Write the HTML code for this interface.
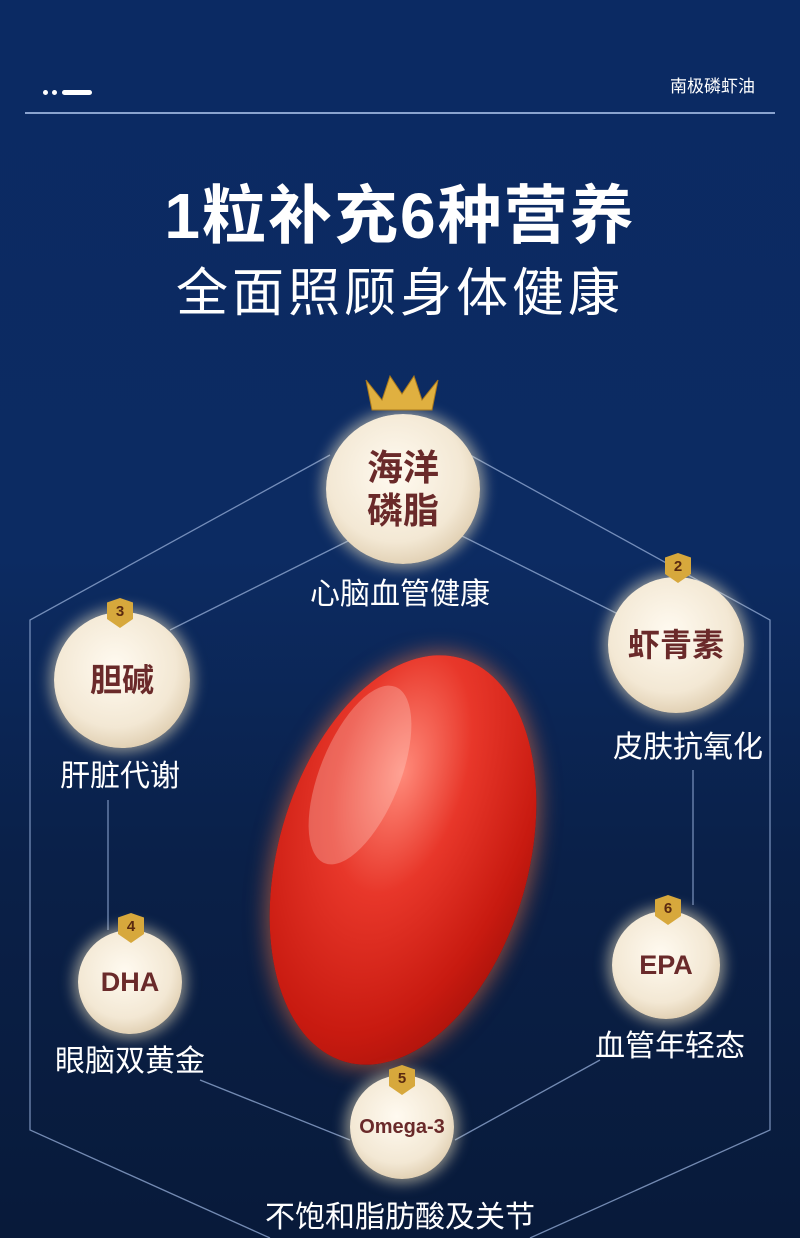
<!DOCTYPE html>
<html><head><meta charset="utf-8"><style>
*{margin:0;padding:0}
body{width:800px;height:1238px;position:relative;overflow:hidden;font-family:"Liberation Sans","Noto Sans CJK SC",sans-serif;
background:linear-gradient(180deg,#0b2a63 0%,#0c2b62 45%,#0a2048 70%,#081a3a 100%);}
.t{position:absolute;color:#fff;white-space:nowrap;text-align:center;line-height:1}
.p{position:absolute;border-radius:50%;background:radial-gradient(circle at 45% 40%,#fffaf0 0%,#f3e8d4 55%,#d8c4a3 85%,#b9a27f 100%);
box-shadow:0 0 14px 4px rgba(255,240,200,.55);display:flex;align-items:center;justify-content:center;color:#6a2a2a;font-weight:bold;text-align:center;line-height:1.2}
.b{position:absolute;width:26px;height:30px;background:#d7a83c;clip-path:polygon(50% 0,100% 15%,100% 70%,50% 100%,0 70%,0 15%);color:#5a2a10;font-size:15px;font-weight:bold;text-align:center;line-height:28px}
</style></head><body>
<div style="position:absolute;left:43px;top:90px;width:5px;height:5px;border-radius:50%;background:#fff"></div>
<div style="position:absolute;left:52px;top:90px;width:5px;height:5px;border-radius:50%;background:#fff"></div>
<div style="position:absolute;left:62px;top:90px;width:30px;height:5px;border-radius:3px;background:#fff"></div>
<div class="t" style="left:670px;top:78px;font-size:17px">南极磷虾油</div>
<div style="position:absolute;left:25px;top:112px;width:750px;height:2px;background:#8aa3cf"></div>
<div class="t" style="left:0;width:800px;top:184px;font-size:64px;font-weight:bold;letter-spacing:2px">1粒补充6种营养</div>
<div class="t" style="left:0;width:800px;top:268px;font-size:52px;letter-spacing:4px">全面照顾身体健康</div>
<svg width="800" height="1238" style="position:absolute;left:0;top:0" fill="none" stroke="#8ea6d0" stroke-width="1.3" opacity=".8">
<polyline points="330,455 30,620 30,1130 270,1238"/>
<polyline points="470,455 770,620 770,1130 530,1238"/>
<line x1="350" y1="540" x2="170" y2="630"/>
<line x1="460" y1="535" x2="620" y2="615"/>
<line x1="108" y1="800" x2="108" y2="930"/>
<line x1="693" y1="770" x2="693" y2="905"/>
<line x1="200" y1="1080" x2="350" y2="1140"/>
<line x1="600" y1="1060" x2="455" y2="1140"/>
</svg>
<div style="position:absolute;left:278px;top:650px;width:250px;height:420px;border-radius:50%;transform:rotate(16deg);
background:radial-gradient(ellipse at 40% 30%,#ff8a7a 0%,#e8372a 30%,#c81a10 65%,#8a0a05 100%);box-shadow:0 0 20px 4px rgba(255,120,60,.5)"></div>
<div style="position:absolute;left:320px;top:680px;width:80px;height:190px;border-radius:50%;transform:rotate(22deg);background:rgba(255,220,210,.3)"></div>
<div class="p" style="left:326px;top:414px;width:154px;height:150px;font-size:36px">海洋<br>磷脂</div>
<svg style="position:absolute;left:360px;top:364px" width="84" height="48"><polygon points="6,16 22,36 30,12 42,30 54,12 62,36 78,16 72,46 12,46" fill="#e0b040" stroke="#a8781c"/></svg>
<div class="t" style="left:300px;top:580px;width:200px;font-size:30px">心脑血管健康</div>
<div class="p" style="left:608px;top:577px;width:136px;height:136px;font-size:32px">虾青素</div>
<div class="b" style="left:665px;top:553px">2</div>
<div class="t" style="left:600px;top:733px;width:176px;font-size:30px">皮肤抗氧化</div>
<div class="p" style="left:54px;top:612px;width:136px;height:136px;font-size:32px">胆碱</div>
<div class="b" style="left:107px;top:598px">3</div>
<div class="t" style="left:40px;top:762px;width:160px;font-size:30px">肝脏代谢</div>
<div class="p" style="left:78px;top:930px;width:104px;height:104px;font-size:27px">DHA</div>
<div class="b" style="left:118px;top:913px">4</div>
<div class="t" style="left:40px;top:1047px;width:180px;font-size:30px">眼脑双黄金</div>
<div class="p" style="left:612px;top:911px;width:108px;height:108px;font-size:27px">EPA</div>
<div class="b" style="left:655px;top:895px">6</div>
<div class="t" style="left:575px;top:1032px;width:190px;font-size:30px">血管年轻态</div>
<div class="p" style="left:350px;top:1075px;width:104px;height:104px;font-size:20px">Omega-3</div>
<div class="b" style="left:389px;top:1065px">5</div>
<div class="t" style="left:240px;top:1203px;width:320px;font-size:30px">不饱和脂肪酸及关节</div>
</body></html>
